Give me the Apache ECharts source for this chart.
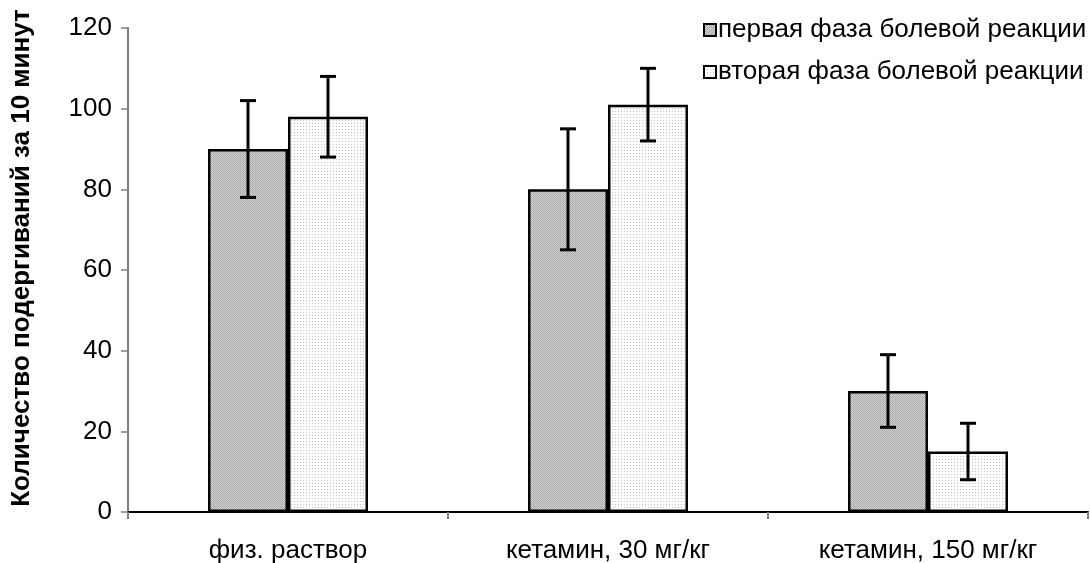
<!DOCTYPE html>
<html>
<head>
<meta charset="utf-8">
<script src="https://cdn.jsdelivr.net/npm/echarts@6/dist/echarts.min.js"></script>
<style>
	html, body { margin: 0; padding: 0; background: #fff; }
	#chart { width: 1090px; height: 563px; }
</style>
</head>
<body>
<div id="chart"></div>
<script type="text/javascript">
	var categories = ['физ. раствор', 'кетамин, 30 мг/кг', 'кетамин, 150 мг/кг'];
	var seriesNames = ['первая фаза болевой реакции', 'вторая фаза болевой реакции'];
	var phase1 = [90, 80, 30];
	var phase1Err = [12, 15, 9];
	var phase2 = [98, 101, 15];
	var phase2Err = [10, 9, 7];

	// fill patterns like the old excel hatch
	function makePattern(bg, dot, step) {
		var c = document.createElement('canvas');
		c.width = step; c.height = step;
		var ctx = c.getContext('2d');
		ctx.fillStyle = bg;
		ctx.fillRect(0, 0, step, step);
		ctx.fillStyle = dot;
		ctx.fillRect(0, 0, 1, 1);
		if (step == 2) ctx.fillRect(1, 1, 1, 1);
		return c;
	}
	var pat1 = { image: makePattern('#d4d4d4', '#a8a8a8', 2), repeat: 'repeat' };
	var pat2 = { image: makePattern('#ffffff', '#c4c4c4', 3), repeat: 'repeat' };

	var font = 'Liberation Sans, Arial, sans-serif';

	function errData(vals, errs) {
		var out = [];
		for (var i = 0; i < vals.length; i++) {
			out.push([i, vals[i] - errs[i], vals[i] + errs[i]]);
		}
		return out;
	}

	function errRender(shift) {
		return function (params, api) {
			var lo = api.coord([api.value(0), api.value(1)]);
			var hi = api.coord([api.value(0), api.value(2)]);
			var x = lo[0] + shift;
			var st = { stroke: '#000', lineWidth: 3 };
			return {
				type: 'group',
				children: [
					{ type: 'line', shape: { x1: x, y1: lo[1], x2: x, y2: hi[1] }, style: st },
					{ type: 'line', shape: { x1: x - 8, y1: lo[1], x2: x + 8, y2: lo[1] }, style: st },
					{ type: 'line', shape: { x1: x - 8, y1: hi[1], x2: x + 8, y2: hi[1] }, style: st }
				]
			};
		};
	}

	var option = {
		animation: false,
		textStyle: { fontFamily: font },
		grid: { left: 128, right: 2, top: 28, bottom: 51, outerBoundsMode: 'none' },
		legend: {
			data: seriesNames,
			orient: 'vertical',
			left: 698,
			top: 12,
			itemWidth: 12,
			itemHeight: 12,
			itemGap: 16,
			icon: 'rect',
			textStyle: { fontSize: 26, color: '#000', fontFamily: font, padding: [0, 0, 0, -3] }
		},
		xAxis: {
			type: 'category',
			data: categories,
			axisLine: { lineStyle: { color: '#000', width: 2 } },
			axisTick: { show: true, length: 7, lineStyle: { color: '#808080', width: 2 } },
			axisLabel: { fontSize: 26, lineHeight: 20, color: '#000', margin: 29, fontFamily: font }
		},
		yAxis: {
			type: 'value',
			min: 0,
			max: 120,
			interval: 20,
			name: 'Количество подергиваний за 10 минут',
			nameLocation: 'middle',
			nameGap: 93,
			nameTextStyle: { fontSize: 26, fontWeight: 'bold', color: '#000', fontFamily: font, padding: [0, 0, 0, 24] },
			axisLine: { show: true, lineStyle: { color: '#808080', width: 2 } },
			axisTick: { show: true, length: 7, lineStyle: { color: '#808080', width: 1.5 } },
			axisLabel: { fontSize: 26, color: '#000', margin: 16, fontFamily: font },
			splitLine: { show: false }
		},
		series: [
			{
				name: seriesNames[0],
				type: 'bar',
				data: phase1,
				barWidth: 80,
				barGap: 0,
				itemStyle: { color: pat1, borderColor: '#000', borderWidth: 2.5 }
			},
			{
				name: seriesNames[1],
				type: 'bar',
				data: phase2,
				barWidth: 80,
				itemStyle: { color: pat2, borderColor: '#000', borderWidth: 2.5 }
			},
			{
				type: 'custom',
				renderItem: errRender(-40),
				data: errData(phase1, phase1Err),
				encode: { x: 0, y: [1, 2] },
				z: 10
			},
			{
				type: 'custom',
				renderItem: errRender(40),
				data: errData(phase2, phase2Err),
				encode: { x: 0, y: [1, 2] },
				z: 10
			}
		]
	};

	var myChart = echarts.init(document.getElementById('chart'));
	myChart.setOption(option);
</script>
</body>
</html>
